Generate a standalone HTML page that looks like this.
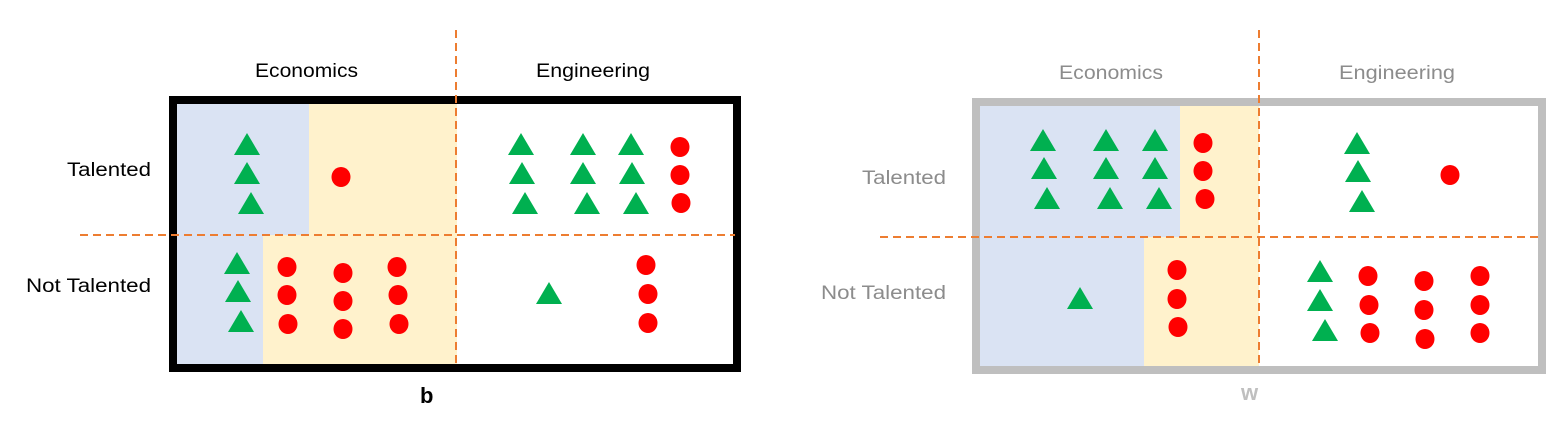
<!DOCTYPE html>
<html><head><meta charset="utf-8"><style>html,body{margin:0;padding:0;background:#fff}svg{display:block}</style></head><body>
<svg width="1568" height="426" viewBox="0 0 1568 426" xmlns="http://www.w3.org/2000/svg" font-family="Liberation Sans, sans-serif">
<defs>
<path id="t" d="M0,-11 L13,11 L-13,11 Z" fill="#00b050"/>
<ellipse id="c" rx="9.5" ry="10" fill="#ff0000"/>
</defs>
<!-- LEFT PANEL -->
<rect x="173" y="100" width="566" height="268" fill="#fff"/>
<rect x="177" y="104" width="132" height="131" fill="#dae3f3"/>
<rect x="309" y="104" width="148" height="131" fill="#fff2cc"/>
<rect x="177" y="235" width="86" height="129" fill="#dae3f3"/>
<rect x="263" y="235" width="194" height="129" fill="#fff2cc"/>
<rect x="173" y="100" width="564" height="268" fill="none" stroke="#000" stroke-width="8"/>
<line x1="456" y1="30" x2="456" y2="364" stroke="#ed7d31" stroke-width="2" stroke-dasharray="8,5"/>
<line x1="80" y1="235" x2="735" y2="235" stroke="#ed7d31" stroke-width="2" stroke-dasharray="8,5"/>
<g>
<use href="#t" x="247" y="144"/><use href="#t" x="247" y="173"/><use href="#t" x="251" y="203"/>
<use href="#c" x="341" y="177"/>
<use href="#t" x="521" y="144"/><use href="#t" x="522" y="173"/><use href="#t" x="525" y="203"/>
<use href="#t" x="583" y="144"/><use href="#t" x="583" y="173"/><use href="#t" x="587" y="203"/>
<use href="#t" x="631" y="144"/><use href="#t" x="632" y="173"/><use href="#t" x="636" y="203"/>
<use href="#c" x="680" y="147"/><use href="#c" x="680" y="175"/><use href="#c" x="681" y="203"/>
<use href="#t" x="237" y="263"/><use href="#t" x="238" y="291"/><use href="#t" x="241" y="321"/>
<use href="#c" x="287" y="267"/><use href="#c" x="287" y="295"/><use href="#c" x="288" y="324"/>
<use href="#c" x="343" y="273"/><use href="#c" x="343" y="301"/><use href="#c" x="343" y="329"/>
<use href="#c" x="397" y="267"/><use href="#c" x="398" y="295"/><use href="#c" x="399" y="324"/>
<use href="#t" x="549" y="293"/>
<use href="#c" x="646" y="265"/><use href="#c" x="648" y="294"/><use href="#c" x="648" y="323"/>
</g>
<g font-size="19" fill="#000">
<text x="255" y="77" textLength="103" lengthAdjust="spacingAndGlyphs">Economics</text>
<text x="536" y="77" textLength="114" lengthAdjust="spacingAndGlyphs">Engineering</text>
<text x="67" y="176" textLength="84" lengthAdjust="spacingAndGlyphs">Talented</text>
<text x="26" y="292" textLength="125" lengthAdjust="spacingAndGlyphs">Not Talented</text>
<text x="420" y="403" font-weight="bold" font-size="22">b</text>
</g>
<!-- RIGHT PANEL -->
<rect x="976" y="102" width="566" height="268" fill="#fff"/>
<rect x="980" y="106" width="200" height="131" fill="#dae3f3"/>
<rect x="1180" y="106" width="79" height="131" fill="#fff2cc"/>
<rect x="980" y="237" width="164" height="129" fill="#dae3f3"/>
<rect x="1144" y="237" width="115" height="129" fill="#fff2cc"/>
<rect x="976" y="102" width="566" height="268" fill="none" stroke="#bfbfbf" stroke-width="8"/>
<line x1="1259" y1="30" x2="1259" y2="366" stroke="#ed7d31" stroke-width="2" stroke-dasharray="8,5"/>
<line x1="880" y1="237" x2="1538" y2="237" stroke="#ed7d31" stroke-width="2" stroke-dasharray="8,5"/>
<g>
<use href="#t" x="1043" y="140"/><use href="#t" x="1044" y="168"/><use href="#t" x="1047" y="198"/>
<use href="#t" x="1106" y="140"/><use href="#t" x="1106" y="168"/><use href="#t" x="1110" y="198"/>
<use href="#t" x="1155" y="140"/><use href="#t" x="1155" y="168"/><use href="#t" x="1159" y="198"/>
<use href="#c" x="1203" y="143"/><use href="#c" x="1203" y="171"/><use href="#c" x="1205" y="199"/>
<use href="#t" x="1357" y="143"/><use href="#t" x="1358" y="171"/><use href="#t" x="1362" y="201"/>
<use href="#c" x="1450" y="175"/>
<use href="#t" x="1080" y="298"/>
<use href="#c" x="1177" y="270"/><use href="#c" x="1177" y="299"/><use href="#c" x="1178" y="327"/>
<use href="#t" x="1320" y="271"/><use href="#t" x="1320" y="300"/><use href="#t" x="1325" y="330"/>
<use href="#c" x="1368" y="276"/><use href="#c" x="1369" y="305"/><use href="#c" x="1370" y="333"/>
<use href="#c" x="1424" y="281"/><use href="#c" x="1424" y="310"/><use href="#c" x="1425" y="339"/>
<use href="#c" x="1480" y="276"/><use href="#c" x="1480" y="305"/><use href="#c" x="1480" y="333"/>
</g>
<g font-size="19" fill="#8c8c8c">
<text x="1059" y="79" textLength="104" lengthAdjust="spacingAndGlyphs">Economics</text>
<text x="1339" y="79" textLength="116" lengthAdjust="spacingAndGlyphs">Engineering</text>
<text x="862" y="184" textLength="84" lengthAdjust="spacingAndGlyphs">Talented</text>
<text x="821" y="299" textLength="125" lengthAdjust="spacingAndGlyphs">Not Talented</text>
<text x="1241" y="400" font-weight="bold" font-size="22" fill="#bfbfbf">w</text>
</g>
</svg>
</body></html>
